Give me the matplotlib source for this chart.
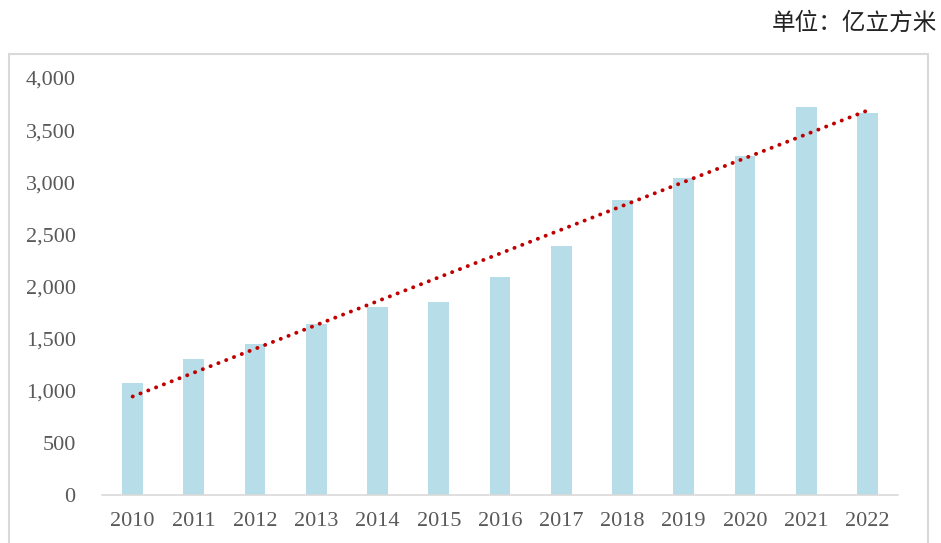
import numpy as np
import matplotlib
matplotlib.use("Agg")
import matplotlib.pyplot as plt
from matplotlib.patches import Rectangle
from matplotlib.ticker import FuncFormatter

# datos (亿立方米)
anios = ["2010", "2011", "2012", "2013", "2014", "2015", "2016",
         "2017", "2018", "2019", "2020", "2021", "2022"]
consumo = [1077, 1305, 1446, 1640, 1806, 1851, 2088,
           2392, 2833, 3040, 3250, 3720, 3663]
unidad = "单位：亿立方米"

fig = plt.figure(figsize=(9.41, 5.43), dpi=100)
ax = fig.add_axes([0.1084, 0.0884, 0.8459, 0.768])

x = np.arange(len(anios))
ax.bar(x, consumo, width=0.34, color="#B7DDE8", zorder=2)

# linea de tendencia lineal
m, b = np.polyfit(x, consumo, 1)
ax.plot(x, m * x + b, linestyle=(0, (0.05, 2.1)), color="#C00000",
        linewidth=2.8, zorder=3, dash_capstyle="round")

ax.set_xlim(-0.5, len(anios) - 0.5)
ax.set_ylim(0, 4000)
ax.set_yticks(np.arange(0, 4001, 500))
ax.yaxis.set_major_formatter(FuncFormatter(lambda v, p: f"{int(v):,}"))
ax.set_xticks(x)
ax.set_xticklabels(anios)

for s in ["top", "right", "left"]:
    ax.spines[s].set_visible(False)
ax.spines["bottom"].set_color("#D9D9D9")
ax.spines["bottom"].set_linewidth(1.2)
ax.tick_params(axis="both", length=0, labelsize=16, labelcolor="#595959")
ax.tick_params(axis="y", pad=19)
ax.tick_params(axis="x", pad=12)
for lab in ax.get_xticklabels() + ax.get_yticklabels():
    lab.set_fontfamily("Liberation Serif")

# marco gris alrededor del grafico
fig.patches.append(Rectangle((9 / 941, -0.02), 919 / 941, 0.9206,
                             transform=fig.transFigure, fill=False,
                             edgecolor="#D9D9D9", linewidth=1.5))

fig.text(0.996, 0.958, unidad, ha="right", va="center", fontsize=17,
         color="#222222", family=["Noto Sans CJK SC", "DejaVu Sans"])

fig.savefig("out.png", dpi=100)
